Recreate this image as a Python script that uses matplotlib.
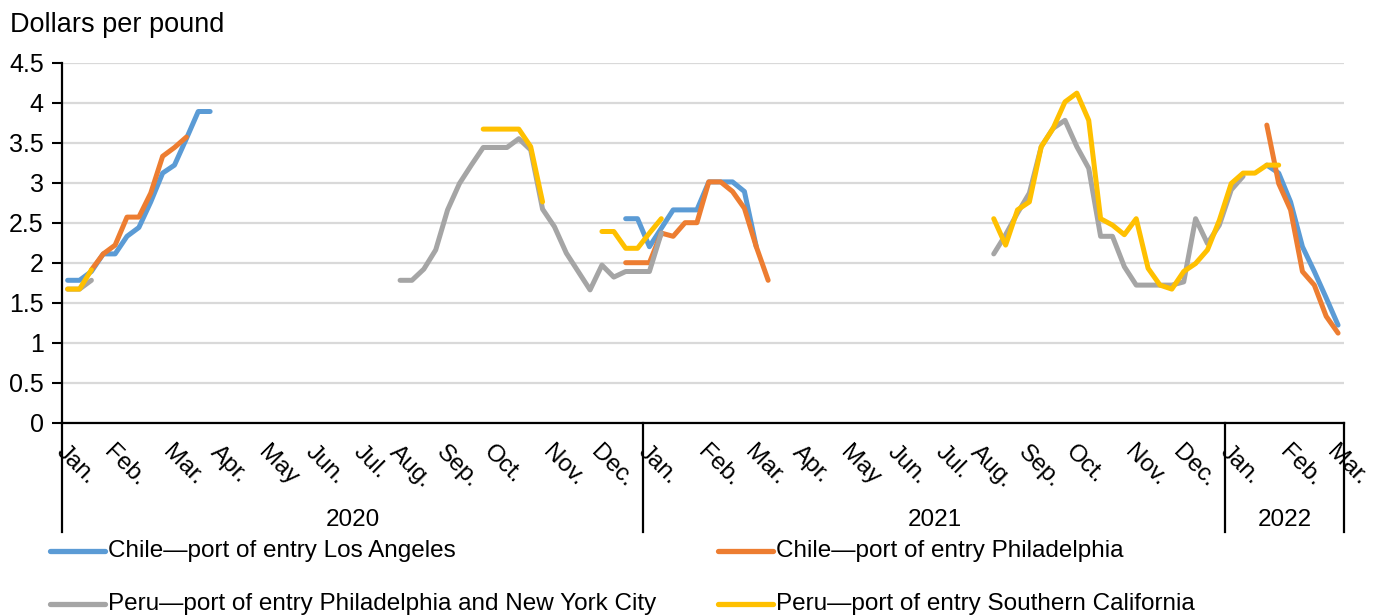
import numpy as np
import matplotlib
matplotlib.use("Agg")
import matplotlib.pyplot as plt
from matplotlib.lines import Line2D
from matplotlib.transforms import blended_transform_factory

plt.rcParams['font.family'] = ['Liberation Sans', 'DejaVu Sans']

# weekly categories: 49 weeks in 2020, 49 in 2021, 10 in 2022
years = ['2020', '2021', '2022']
weeks_per_year = [49, 49, 10]
months = ['Jan.', 'Feb.', 'Mar.', 'Apr.', 'May', 'Jun.', 'Jul.', 'Aug.', 'Sep.', 'Oct.', 'Nov.', 'Dec.']
month_week_2020 = [0, 4, 9, 13, 17, 21, 25, 28, 32, 36, 41, 45]
month_week_2021 = [0, 5, 9, 13, 17, 21, 25, 28, 32, 36, 41, 45]
month_week_2022 = [0, 5, 9]

# series values, as {first week index: values}
chile_la = {
    0: [1.78, 1.78, 1.89, 2.11, 2.11, 2.33, 2.44, 2.76, 3.12, 3.22, 3.55, 3.89, 3.89],
    47: [2.55, 2.55, 2.20, 2.43, 2.66, 2.66, 2.66, 3.01, 3.01, 3.01, 2.89, 2.20],
    101: [3.22, 3.12, 2.76, 2.20, 1.89, 1.56, 1.22],
}
chile_phl = {
    2: [1.91, 2.11, 2.22, 2.57, 2.57, 2.87, 3.33, 3.44, 3.57],
    47: [2.00, 2.00, 2.00, 2.37, 2.33, 2.50, 2.50, 3.01, 3.01, 2.89, 2.68, 2.20, 1.78],
    101: [3.72, 2.99, 2.66, 1.89, 1.72, 1.33, 1.12],
}
peru_phl_nyc = {
    0: [1.67, 1.67, 1.78],
    28: [1.78, 1.78, 1.92, 2.16, 2.66, 2.99, 3.22, 3.44, 3.44, 3.44, 3.55, 3.41, 2.67,
         2.45, 2.12, 1.89, 1.66, 1.97, 1.82, 1.89, 1.89, 1.89, 2.37],
    78: [2.11, 2.35, 2.62, 2.87, 3.45, 3.68, 3.78, 3.45, 3.18, 2.33, 2.33, 1.95, 1.72,
         1.72, 1.72, 1.72, 1.76, 2.55, 2.24, 2.47, 2.91, 3.08],
}
peru_socal = {
    0: [1.67, 1.67, 1.91],
    35: [3.67, 3.67, 3.67, 3.67, 3.45, 2.76],
    45: [2.39, 2.39, 2.18, 2.18, 2.37, 2.55],
    78: [2.55, 2.22, 2.66, 2.76, 3.45, 3.68, 4.01, 4.12, 3.78, 2.55, 2.47, 2.35, 2.55,
         1.93, 1.72, 1.67, 1.89, 1.99, 2.16, 2.53, 2.99, 3.12, 3.12, 3.22, 3.22],
}

series = [
    ('Chile\u2014port of entry Los Angeles', chile_la, '#5B9BD5'),
    ('Chile\u2014port of entry Philadelphia', chile_phl, '#ED7D31'),
    ('Peru\u2014port of entry Philadelphia and New York City', peru_phl_nyc, '#A5A5A5'),
    ('Peru\u2014port of entry Southern California', peru_socal, '#FFC000'),
]

n_weeks = sum(weeks_per_year)
W, H = 1377, 615


def to_array(segments):
    arr = np.full(n_weeks, np.nan)
    for start, vals in segments.items():
        arr[start:start + len(vals)] = vals
    return arr


fig = plt.figure(figsize=(W / 100, H / 100), dpi=100)
ax = fig.add_axes([61.7 / W, 1 - 422.7 / H, (1344 - 61.7) / W, 360 / H])

x = np.arange(n_weeks)
for label, segs, color in series:
    ax.plot(x, to_array(segs), color=color, linewidth=3.6,
            solid_capstyle='round', solid_joinstyle='round', label=label)

ax.set_xlim(-0.5, n_weeks - 0.5)
ax.set_ylim(0, 4.5)
ax.set_yticks(np.arange(0, 4.51, 0.5))
ax.set_yticklabels(['{:g}'.format(v) for v in np.arange(0, 4.51, 0.5)])
ax.set_xticks([])
ax.tick_params(axis='y', length=7, width=1.5, labelsize=18, pad=6)
ax.yaxis.grid(True, color='#d9d9d9', linewidth=1.6)
ax.set_axisbelow(True)
for side in ['top', 'right']:
    ax.spines[side].set_visible(False)
ax.spines['left'].set_linewidth(1.6)
ax.spines['bottom'].set_linewidth(1.6)

# multi-level category axis: months and years
trans = blended_transform_factory(ax.transData, ax.transAxes)
year_starts = np.cumsum([0] + weeks_per_year)
month_weeks = [month_week_2020, month_week_2021, month_week_2022]
for yi, year in enumerate(years):
    start = year_starts[yi]
    for mi, wk in enumerate(month_weeks[yi]):
        ax.text(start + wk, -0.052, months[mi], transform=trans, rotation=-45,
                rotation_mode='anchor', ha='left', va='top', fontsize=17.5)
    mid = start + weeks_per_year[yi] / 2 - 0.5
    ax.text(mid, -0.27, year, transform=trans, ha='center', va='center', fontsize=17.5)
for b in year_starts:
    ax.plot([b - 0.5, b - 0.5], [0, -0.304], transform=trans, color='black',
            linewidth=1.6, clip_on=False)

fig.text(10 / W, 1 - 25 / H, 'Dollars per pound', fontsize=19.5, ha='left', va='center')

# legend, two columns
legend_pos = [(50, 551), (718, 551), (50, 604), (718, 604)]
for (label, segs, color), (lx, ly) in zip(series, legend_pos):
    fig.add_artist(Line2D([lx / W, (lx + 55) / W], [1 - ly / H, 1 - ly / H],
                          transform=fig.transFigure, color=color, linewidth=3.8,
                          solid_capstyle='round'))
    fig.text((lx + 58) / W, 1 - ly / H, label, fontsize=17.5, ha='left', va='center')

fig.savefig('out.png', dpi=100)
